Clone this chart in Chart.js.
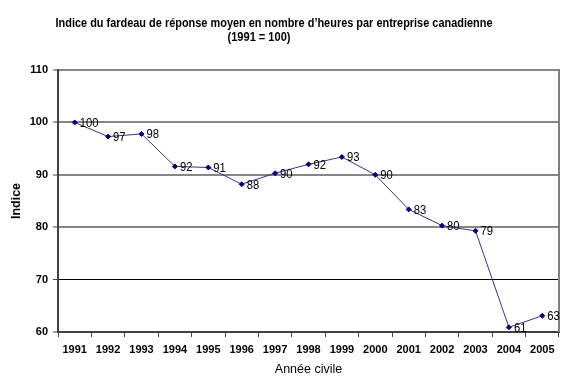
<!DOCTYPE html>
<html>
<head>
<meta charset="utf-8">
<script src="https://cdn.jsdelivr.net/npm/chart.js@4/dist/chart.umd.min.js"></script>
<style>
  html, body { margin: 0; padding: 0; background: #ffffff; }
  #wrap { width: 572px; height: 385px; position: relative; }
</style>
</head>
<body>
<div id="wrap"><canvas id="c" width="572" height="385"></canvas></div>
<script>
// ---- Data ----
const titleLines = ["Indice du fardeau de réponse moyen en nombre d’heures par entreprise canadienne", "(1991 = 100)"];
const years = ["1991","1992","1993","1994","1995","1996","1997","1998","1999","2000","2001","2002","2003","2004","2005"];
const indexValues = [100, 97.3, 97.8, 91.6, 91.4, 88.2, 90.3, 92.0, 93.4, 90.0, 83.4, 80.3, 79.3, 60.9, 63.1];
const yTickValues = [60, 70, 80, 90, 100, 110];
const xAxisTitle = "Année civile";
const yAxisTitle = "Indice";

const FONT = "'Liberation Sans', Arial, sans-serif";

const titlePlugin = {
  id: 'customTitle',
  afterDraw(chart) {
    const ctx = chart.ctx;
    ctx.save();
    ctx.fillStyle = '#000000';
    ctx.font = "bold 13px " + FONT;
    ctx.textAlign = 'center';
    ctx.textBaseline = 'alphabetic';
    ctx.fillText(titleLines[0], 274, 26.5, 437);
    ctx.fillText(titleLines[1], 259, 40.5, 63);
    ctx.restore();
  }
};

const framePlugin = {
  id: 'rightFrame',
  beforeDatasetsDraw(chart) {
    const a = chart.chartArea;
    const ctx = chart.ctx;
    ctx.save();
    ctx.strokeStyle = '#808080';
    ctx.lineWidth = 2;
    ctx.beginPath();
    ctx.moveTo(a.right, a.top - 1);
    ctx.lineTo(a.right, a.bottom);
    ctx.stroke();
    ctx.restore();
  }
};

const labelPlugin = {
  id: 'pointLabels',
  afterDatasetsDraw(chart) {
    const ctx = chart.ctx;
    const meta = chart.getDatasetMeta(0);
    const data = chart.data.datasets[0].data;
    ctx.save();
    ctx.fillStyle = '#000000';
    ctx.font = "12.5px " + FONT;
    ctx.textAlign = 'left';
    ctx.textBaseline = 'middle';
    meta.data.forEach((pt, i) => {
      const txt = String(Math.round(data[i]));
      const w = ctx.measureText(txt).width * 0.9;
      ctx.fillText(txt, pt.x + 5, pt.y + 1, w);
    });
    ctx.restore();
  }
};

new Chart(document.getElementById('c'), {
  type: 'line',
  data: {
    labels: years,
    datasets: [{
      data: indexValues,
      borderColor: '#333399',
      borderWidth: 1,
      backgroundColor: '#000080',
      pointBackgroundColor: '#000080',
      pointBorderColor: '#000080',
      pointStyle: 'rectRot',
      pointRadius: 2.5,
      pointBorderWidth: 1,
      tension: 0,
      fill: false
    }]
  },
  options: {
    responsive: false,
    animation: false,
    devicePixelRatio: 1,
    layout: { padding: { top: 70, right: 13, bottom: 0, left: 0 } },
    plugins: {
      legend: { display: false },
      title: { display: false },
      tooltip: { enabled: false }
    },
    scales: {
      x: {
        type: 'category',
        offset: true,
        grid: {
          offset: true,
          drawOnChartArea: false,
          tickLength: 5,
          color: '#404040',
          tickColor: '#404040',
          tickWidth: 1
        },
        border: { display: true, color: '#404040', width: 2 },
        ticks: {
          color: '#000000',
          font: { family: FONT, size: 11, weight: 'bold' },
          padding: 6,
          maxRotation: 0,
          autoSkip: false
        },
        title: {
          display: true,
          text: xAxisTitle,
          color: '#000000',
          font: { family: FONT, size: 12.5, weight: 'normal' },
          padding: { top: 0, bottom: 8 }
        },
        afterFit(scale) { scale.height = 53; }
      },
      y: {
        min: 60,
        max: 110,
        afterBuildTicks(scale) { scale.ticks = yTickValues.map(v => ({ value: v })); },
        grid: {
          color: (c) => (c.tick && c.tick.value === 70) ? '#000000' : (c.tick && c.tick.value === 60 ? '#404040' : '#868686'),
          lineWidth: (c) => (c.tick && c.tick.value === 70) ? 1 : 2,
          tickLength: 5,
          tickColor: '#404040',
          tickWidth: 1
        },
        border: { display: true, color: '#404040', width: 2 },
        ticks: {
          color: '#000000',
          font: { family: FONT, size: 11, weight: 'bold' },
          padding: 5
        },
        title: {
          display: true,
          text: yAxisTitle,
          color: '#000000',
          font: { family: FONT, size: 12.5, weight: 'bold' },
          padding: { top: 9, bottom: 0 }
        },
        afterFit(scale) { scale.width = 58; }
      }
    }
  },
  plugins: [titlePlugin, framePlugin, labelPlugin]
});
</script>
</body>
</html>
